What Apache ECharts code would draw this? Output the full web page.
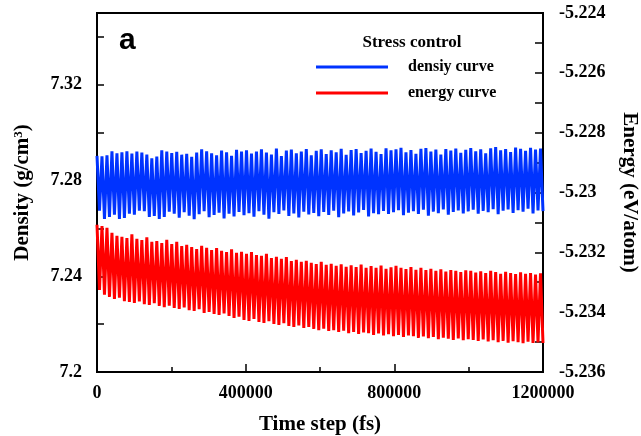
<!DOCTYPE html>
<html>
<head>
<meta charset="utf-8">
<script src="https://cdn.jsdelivr.net/npm/echarts@6/dist/echarts.min.js"></script>
<style>
    html, body { margin: 0; padding: 0; background: #fff; }
    #chart { width: 641px; height: 436px; }
</style>
</head>
<body>
<div id="chart"></div>
<script>
// ---------------- DATA ----------------
const timeMax = 1200000;
const xTickLabels = [0, 400000, 800000, 1200000];
const densityTickLabels = [7.2, 7.24, 7.28, 7.32];

// one peak + one trough per oscillation cycle
const densityPeaks = [
    7.2903, 7.2901, 7.2905, 7.2922, 7.2914, 7.2918, 7.2922, 7.2913, 7.2921, 7.2917, 7.2909, 7.2893, 7.2900, 7.2926, 7.2921,
    7.2915, 7.2920, 7.2908, 7.2912, 7.2899, 7.2917, 7.2930, 7.2922, 7.2914, 7.2905, 7.2925, 7.2918, 7.2903, 7.2928, 7.2921,
    7.2926, 7.2913, 7.2921, 7.2930, 7.2917, 7.2909, 7.2934, 7.2902, 7.2925, 7.2929, 7.2914, 7.2921, 7.2932, 7.2905, 7.2924,
    7.2930, 7.2911, 7.2926, 7.2918, 7.2933, 7.2907, 7.2927, 7.2931, 7.2915, 7.2924, 7.2934, 7.2920, 7.2911, 7.2935, 7.2926,
    7.2930, 7.2937, 7.2918, 7.2927, 7.2912, 7.2933, 7.2936, 7.2921, 7.2929, 7.2908, 7.2931, 7.2925, 7.2934, 7.2916, 7.2928,
    7.2936, 7.2922, 7.2930, 7.2914, 7.2935, 7.2940, 7.2926, 7.2931, 7.2919, 7.2938, 7.2933, 7.2924, 7.2937, 7.2929, 7.2934
];
const densityTroughs = [
    7.2674, 7.2640, 7.2648, 7.2657, 7.2640, 7.2644, 7.2661, 7.2657, 7.2674, 7.2672, 7.2648, 7.2652, 7.2640, 7.2648, 7.2670,
    7.2661, 7.2645, 7.2668, 7.2653, 7.2638, 7.2659, 7.2672, 7.2647, 7.2656, 7.2666, 7.2642, 7.2661, 7.2650, 7.2669, 7.2655,
    7.2664, 7.2649, 7.2672, 7.2657, 7.2641, 7.2668, 7.2660, 7.2675, 7.2652, 7.2663, 7.2646, 7.2670, 7.2658, 7.2665, 7.2651,
    7.2669, 7.2656, 7.2674, 7.2647, 7.2663, 7.2671, 7.2654, 7.2667, 7.2677, 7.2650, 7.2664, 7.2659, 7.2673, 7.2660, 7.2668,
    7.2676, 7.2655, 7.2666, 7.2672, 7.2660, 7.2678, 7.2653, 7.2670, 7.2664, 7.2679, 7.2657, 7.2669, 7.2675, 7.2662, 7.2671,
    7.2678, 7.2661, 7.2673, 7.2668, 7.2680, 7.2659, 7.2674, 7.2679, 7.2665, 7.2676, 7.2670, 7.2682, 7.2663, 7.2675, 7.2672
];
const energyPeaks = [
    -5.23108, -5.23112, -5.23118, -5.23135, -5.23145, -5.23148, -5.23152, -5.23140, -5.23155, -5.23159, -5.23150, -5.23165, -5.23162, -5.23169, -5.23158,
    -5.23172, -5.23165, -5.23179, -5.23175, -5.23182, -5.23189, -5.23178, -5.23185, -5.23192, -5.23186, -5.23195, -5.23199, -5.23190, -5.23202, -5.23198,
    -5.23205, -5.23199, -5.23209, -5.23212, -5.23205, -5.23219, -5.23215, -5.23222, -5.23216, -5.23229, -5.23225, -5.23232, -5.23228, -5.23235, -5.23239,
    -5.23232, -5.23242, -5.23238, -5.23245, -5.23240, -5.23248, -5.23243, -5.23249, -5.23241, -5.23252, -5.23246, -5.23252, -5.23244, -5.23255, -5.23250,
    -5.23245, -5.23252, -5.23256, -5.23249, -5.23258, -5.23252, -5.23259, -5.23255, -5.23262, -5.23257, -5.23264, -5.23259, -5.23262, -5.23266, -5.23260,
    -5.23262, -5.23268, -5.23263, -5.23269, -5.23262, -5.23266, -5.23272, -5.23265, -5.23269, -5.23273, -5.23267, -5.23272, -5.23269, -5.23274, -5.23270
];
const energyTroughs = [
    -5.23326, -5.23342, -5.23349, -5.23356, -5.23352, -5.23363, -5.23366, -5.23369, -5.23364, -5.23373, -5.23376, -5.23370, -5.23379, -5.23383, -5.23378,
    -5.23386, -5.23389, -5.23384, -5.23393, -5.23396, -5.23390, -5.23403, -5.23399, -5.23406, -5.23409, -5.23404, -5.23413, -5.23419, -5.23415, -5.23426,
    -5.23429, -5.23423, -5.23433, -5.23436, -5.23430, -5.23439, -5.23443, -5.23437, -5.23446, -5.23449, -5.23444, -5.23453, -5.23449, -5.23456, -5.23460,
    -5.23455, -5.23463, -5.23460, -5.23466, -5.23462, -5.23470, -5.23466, -5.23473, -5.23468, -5.23470, -5.23476, -5.23471, -5.23478, -5.23474, -5.23480,
    -5.23476, -5.23483, -5.23478, -5.23480, -5.23486, -5.23481, -5.23487, -5.23483, -5.23490, -5.23485, -5.23489, -5.23493, -5.23488, -5.23494, -5.23490,
    -5.23493, -5.23496, -5.23491, -5.23498, -5.23494, -5.23500, -5.23496, -5.23502, -5.23497, -5.23500, -5.23504, -5.23499, -5.23503, -5.23501, -5.23503
];

// ---------------- BUILD SERIES ----------------
// samples are evenly spaced in time, peak then trough
function build_series(peaks, troughs) {
    let n = peaks.length * 2;
    let step = timeMax / (n - 1);
    let out = [];
    peaks.forEach((p, i) => {
        out.push([2 * i * step, p]);
        out.push([(2 * i + 1) * step, troughs[i]]);
    });
    return out;
}

let densityData = build_series(densityPeaks, densityTroughs);
let energyData = build_series(energyPeaks, energyTroughs);

const FONT = "'Liberation Serif', 'Times New Roman', serif";
let chart = echarts.init(document.getElementById("chart"));

chart.setOption({
    animation: false,
    grid: {
        left: 97, right: 98, top: 13, bottom: 64,
        outerBoundsMode: "none",
        show: true, borderColor: "#000", borderWidth: 2
    },
    graphic: [
        {
            type: "text", left: 119, top: 26,
            style: { text: "a", font: "bold 30px 'Liberation Sans', Arial, sans-serif", fill: "#000" }
        },
        {
            type: "text", x: 412, y: 43,
            style: {
                text: "Stress control", font: "bold 17px " + FONT, fill: "#000",
                textAlign: "center", textVerticalAlign: "middle"
            }
        }
    ],
    legend: {
        orient: "vertical",
        left: 316, top: 59,
        padding: 0,
        icon: "rect",
        itemWidth: 72, itemHeight: 3, itemGap: 10,
        textStyle: {
            fontFamily: FONT, fontWeight: "bold", fontSize: 16, lineHeight: 16,
            color: "#000", padding: [0, 0, 0, 15]
        },
        data: ["densiy curve", "energy curve"]
    },
    xAxis: {
        type: "value",
        min: 0, max: timeMax, interval: 400000,
        name: "Time step (fs)",
        nameLocation: "middle", nameGap: 42,
        nameTextStyle: { fontFamily: FONT, fontWeight: "bold", fontSize: 21, color: "#000" },
        axisLine: { lineStyle: { color: "#000", width: 2 } },
        axisTick: { inside: true, length: 8, lineStyle: { color: "#000", width: 1.5 } },
        minorTick: { show: true, splitNumber: 2, length: 5, lineStyle: { color: "#000", width: 1.5 } },
        splitLine: { show: false },
        axisLabel: {
            margin: 12,
            fontFamily: FONT, fontWeight: "bold", fontSize: 18, color: "#000",
            formatter: v => xTickLabels.includes(v) ? String(v) : ""
        }
    },
    yAxis: [
        {
            type: "value",
            position: "left",
            min: 7.2, max: 7.35, interval: 0.02,
            name: "Density (g/cm{sup|3})",
            nameLocation: "middle", nameGap: 63, nameRotate: 90,
            nameTextStyle: {
                fontFamily: FONT, fontWeight: "bold", fontSize: 21, color: "#000",
                rich: { sup: { fontFamily: FONT, fontWeight: "bold", fontSize: 13, color: "#000", verticalAlign: "top", lineHeight: 22 } }
            },
            axisLine: { show: true, lineStyle: { color: "#000", width: 2 } },
            axisTick: { inside: true, length: 7, lineStyle: { color: "#000", width: 1.5 } },
            splitLine: { show: false },
            axisLabel: {
                margin: 15,
                fontFamily: FONT, fontWeight: "bold", fontSize: 18, color: "#000",
                formatter: v => {
                    let r = Math.round(v * 100) / 100;
                    return densityTickLabels.includes(r) && Math.abs(v - r) < 1e-6 ? String(r) : "";
                }
            }
        },
        {
            type: "value",
            position: "right",
            min: -5.236, max: -5.224, interval: 0.001,
            name: "Energy (eV/atom)",
            nameLocation: "middle", nameGap: 76, nameRotate: -90,
            nameTextStyle: { fontFamily: FONT, fontWeight: "bold", fontSize: 21, color: "#000" },
            axisLine: { show: true, lineStyle: { color: "#000", width: 2 } },
            axisTick: { inside: true, length: 8, lineStyle: { color: "#000", width: 1.5 } },
            splitLine: { show: false },
            axisLabel: {
                margin: 16,
                fontFamily: FONT, fontWeight: "bold", fontSize: 18, color: "#000",
                formatter: v => Math.abs(Math.round(v * 1000)) % 2 === 0 ? String(+v.toFixed(3)) : ""
            }
        }
    ],
    series: [
        {
            name: "densiy curve",
            type: "line",
            yAxisIndex: 0,
            showSymbol: false,
            symbol: "none",
            data: densityData,
            lineStyle: { color: "#0033ff", width: 3 },
            itemStyle: { color: "#0033ff" }
        },
        {
            name: "energy curve",
            type: "line",
            yAxisIndex: 1,
            showSymbol: false,
            symbol: "none",
            data: energyData,
            lineStyle: { color: "#ff0000", width: 3 },
            itemStyle: { color: "#ff0000" }
        }
    ]
});
</script>
</body>
</html>
